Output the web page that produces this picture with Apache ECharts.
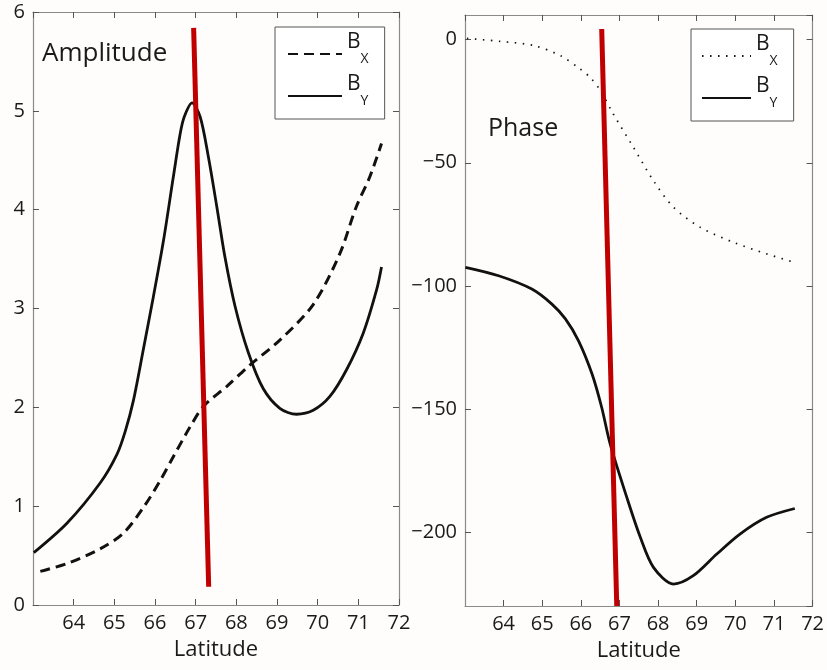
<!DOCTYPE html>
<html>
<head>
<meta charset="utf-8">
<script src="https://cdn.jsdelivr.net/npm/echarts@6/dist/echarts.min.js"></script>
<style>
  html, body { margin: 0; padding: 0; background: #fefdfc; }
  #chart { width: 827px; height: 670px; }
</style>
</head>
<body>
<div id="chart"></div>
<script>
// amplitude panel
const ampLatBy = [63.02, 63.84, 64.66, 65.07, 65.27, 65.47, 65.72, 65.96, 66.21, 66.45, 66.62, 66.72, 66.91, 67.11, 67.31, 67.52, 67.72, 67.97, 68.29, 68.66, 69.07, 69.48, 69.89, 70.30, 70.71, 71.12, 71.45, 71.57];
const ampBy = [0.53, 0.83, 1.24, 1.53, 1.76, 2.07, 2.60, 3.12, 3.69, 4.33, 4.77, 4.94, 5.08, 4.94, 4.54, 4.03, 3.52, 3.02, 2.56, 2.19, 1.99, 1.93, 1.97, 2.11, 2.38, 2.75, 3.19, 3.42];
const ampLatBx = [63.18, 63.84, 64.66, 65.23, 65.72, 66.13, 66.45, 66.86, 67.19, 67.76, 68.34, 69.07, 69.89, 70.54, 70.95, 71.28, 71.57];
const ampBx = [0.34, 0.42, 0.57, 0.73, 0.99, 1.26, 1.50, 1.80, 2.01, 2.21, 2.43, 2.68, 3.04, 3.55, 4.03, 4.33, 4.67];

// phase panel
const phLatBx = [63.05, 63.91, 64.78, 65.47, 65.98, 66.25, 66.50, 66.84, 67.36, 67.88, 68.40, 69.09, 69.95, 70.81, 71.54];
const phBx = [0.5, -0.7, -2.4, -6.5, -11.9, -15.5, -20.5, -30.2, -43.7, -57.3, -68.1, -76.2, -82.3, -87.0, -90.5];
const phLatBy = [63.01, 63.87, 64.73, 65.25, 65.60, 65.94, 66.29, 66.54, 66.76, 67.19, 67.54, 67.88, 68.40, 68.91, 69.52, 70.12, 70.81, 71.54];
const phBy = [-92.5, -95.9, -101.3, -107.4, -113.4, -122.3, -135.8, -149.4, -164.3, -185.9, -202.1, -214.3, -221.1, -217.7, -208.9, -200.8, -194.0, -190.4];

// red marker lines (start, end)
const ampMarkLat = [66.95, 67.32];
const ampMarkVal = [5.84, 0.185];
const phMarkLat = [66.54, 66.93];
const phMarkVal = [4.3, -230];

function pairs(xs, ys) {
  return xs.map((x, i) => [x, ys[i]]);
}

const font = "'Open Sans', 'Noto Sans', sans-serif";
const axisGray = '#8a8a8a';

function xAx(grid, pos, show) {
  return {
    type: 'value', gridIndex: grid, position: pos, min: 63, max: 72, interval: 1,
    axisLine: { show: true, onZero: false, lineStyle: { color: axisGray, width: 1.2 } },
    axisTick: { show: true, inside: true, length: 6, lineStyle: { color: '#555' } },
    axisLabel: {
      show: show, showMinLabel: false, margin: 8, color: '#1a1a1a',
      fontSize: 20, fontFamily: font
    },
    splitLine: { show: false },
    name: show ? 'Latitude' : '', nameLocation: 'middle', nameGap: 34,
    nameTextStyle: { fontSize: 22, color: '#1a1a1a', fontFamily: font }
  };
}

function yAx(grid, pos, show, hideEnds, opts) {
  return Object.assign({
    type: 'value', gridIndex: grid, position: pos,
    axisLine: { show: true, onZero: false, lineStyle: { color: axisGray, width: 1.2 } },
    axisTick: { show: true, inside: true, length: 6, lineStyle: { color: '#555' } },
    axisLabel: {
      show: show, margin: 8, color: '#1a1a1a', fontSize: 20, fontFamily: font,
      showMinLabel: !hideEnds, showMaxLabel: !hideEnds,
      formatter: v => String(v).replace('-', '\u2212')
    },
    splitLine: { show: false }
  }, opts);
}

const legendRich = {
  b: { fontSize: 21, fontFamily: font, color: '#1a1a1a', lineHeight: 24, padding: [0, 0, 13, 0], verticalAlign: 'bottom' },
  s: { fontSize: 14, fontFamily: font, color: '#1a1a1a', lineHeight: 16, verticalAlign: 'bottom' }
};
const legendFmt = name => '{b|B}{s|' + (name.indexOf('X') >= 0 ? 'X' : 'Y') + '}';

const chart = echarts.init(document.getElementById('chart'));
const option = {
  backgroundColor: '#fefdfc',
  animation: false,
  grid: [
    { left: 33, top: 12, width: 366, height: 593 },
    { left: 465, top: 15, width: 348, height: 591 }
  ],
  xAxis: [
    xAx(0, 'bottom', true),
    xAx(0, 'top', false),
    xAx(1, 'bottom', true),
    xAx(1, 'top', false)
  ],
  yAxis: [
    yAx(0, 'left', true, false, { min: 0, max: 6, interval: 1 }),
    yAx(0, 'right', false, false, { min: 0, max: 6, interval: 1 }),
    yAx(1, 'left', true, true, { min: -230, max: 10, splitNumber: 5 }),
    yAx(1, 'right', false, true, { min: -230, max: 10, splitNumber: 5 })
  ],
  legend: [
    {
      data: ['Amp BX', 'Amp BY'], orient: 'vertical', left: 275, top: 27,
      itemWidth: 54, itemHeight: 14, itemGap: 8, padding: [5, 16, 11, 12],
      borderColor: '#555', borderWidth: 1, backgroundColor: '#fff',
      itemStyle: { opacity: 0 },
      formatter: legendFmt, textStyle: { rich: legendRich }, selectedMode: false
    },
    {
      data: ['Phase BX', 'Phase BY'], orient: 'vertical', left: 691, top: 29,
      itemWidth: 49, itemHeight: 14, itemGap: 8, padding: [5, 16, 11, 10],
      borderColor: '#555', borderWidth: 1, backgroundColor: '#fff',
      itemStyle: { opacity: 0 },
      formatter: legendFmt, textStyle: { rich: legendRich }, selectedMode: false
    }
  ],
  graphic: [
    { type: 'text', style: { x: 42, y: 54, text: 'Amplitude', verticalAlign: 'middle', fontSize: 26, fontFamily: font, fill: '#1a1a1a' } },
    { type: 'text', style: { x: 488, y: 129, text: 'Phase', verticalAlign: 'middle', fontSize: 25, fontFamily: font, fill: '#1a1a1a' } }
  ],
  series: [
    {
      name: 'Amp BX', type: 'line', xAxisIndex: 0, yAxisIndex: 0, data: pairs(ampLatBx, ampBx),
      smooth: 0.3, symbol: 'none', color: '#111',
      lineStyle: { color: '#111', width: 3, type: [10, 6] }
    },
    {
      name: 'Amp BY', type: 'line', xAxisIndex: 0, yAxisIndex: 0, data: pairs(ampLatBy, ampBy),
      smooth: 0.3, symbol: 'none', color: '#111',
      lineStyle: { color: '#111', width: 2.8 }
    },
    {
      name: 'ampMark', type: 'line', xAxisIndex: 0, yAxisIndex: 0, data: pairs(ampMarkLat, ampMarkVal),
      symbol: 'none', lineStyle: { color: '#c00000', width: 5 }, z: 5
    },
    {
      name: 'Phase BX', type: 'line', xAxisIndex: 2, yAxisIndex: 2, data: pairs(phLatBx, phBx),
      smooth: 0.3, symbol: 'none', color: '#111',
      lineStyle: { color: '#111', width: 1.7, type: [1.5, 6.5] }
    },
    {
      name: 'Phase BY', type: 'line', xAxisIndex: 2, yAxisIndex: 2, data: pairs(phLatBy, phBy),
      smooth: 0.3, symbol: 'none', color: '#111',
      lineStyle: { color: '#111', width: 2.8 }
    },
    {
      name: 'phMark', type: 'line', xAxisIndex: 2, yAxisIndex: 2, data: pairs(phMarkLat, phMarkVal),
      symbol: 'none', lineStyle: { color: '#c00000', width: 5 }, z: 5
    }
  ]
};
chart.setOption(option);
</script>
</body>
</html>
